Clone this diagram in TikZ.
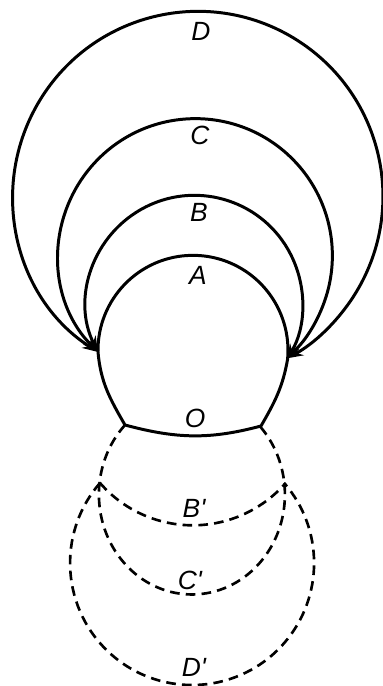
\documentclass[tikz,border=0pt]{standalone}
\usepackage{fontspec}
\setmainfont{Liberation Sans}
\usetikzlibrary{arrows.meta}

\begin{document}
\begin{tikzpicture}[x=0.02cm,y=0.02cm,
  fieldline/.style={line width=1.7pt,
    {Stealth[length=9pt,width=6pt]}-{Stealth[length=9pt,width=6pt]}},
  bulb/.style={line width=1.7pt},
  dashline/.style={line width=1.5pt,dash pattern=on 5.5pt off 3.5pt},
  lab/.style={font=\fontsize{15}{17}\selectfont\itshape,inner sep=0pt}]
\useasboundingbox (0,0) rectangle (382,-686);

% junctions and corners
\coordinate (jl) at (98,-352);
\coordinate (jr) at (286,-359);
\coordinate (bl) at (125,-425);
\coordinate (br) at (261,-426);
\coordinate (xl) at (100,-483);

% closed curve A and O
\draw[bulb] (jl) arc[start angle=181,end angle=-5.5,radius=95]
  to[out=-100,in=60] (br) to[out=-165,in=-15] (bl)
  to[out=120,in=-85] (jl);

% outer lines
\draw[fieldline] (jl) arc[start angle=206.8,end angle=-31.6,radius=108];
\draw[fieldline] (jl) arc[start angle=224.7,end angle=-48.5,radius=137];
\draw[fieldline] (jl) arc[start angle=237.3,end angle=-61.1,radius=185];

% dashed lines
\draw[dashline] (bl) arc[start angle=136,end angle=403,x radius=93,y radius=100];
\draw[dashline] (xl) arc[start angle=221,end angle=319,radius=123];
\draw[dashline] (xl) arc[start angle=139,end angle=401,radius=122];

\node[lab] (labD) at (201,-31) {D};
\node[lab] (labC) at (200,-135) {C};
\node[lab] (labB) at (199,-212) {B};
\node[lab] (labA) at (198,-275) {A};
\node[lab] (labO) at (195,-418) {O};
\node[lab] (labBp) at (194,-508) {B\textquotesingle};
\node[lab] (labCp) at (190,-580) {C\textquotesingle};
\node[lab] (labDp) at (194,-667) {D\textquotesingle};
\end{tikzpicture}
\end{document}
